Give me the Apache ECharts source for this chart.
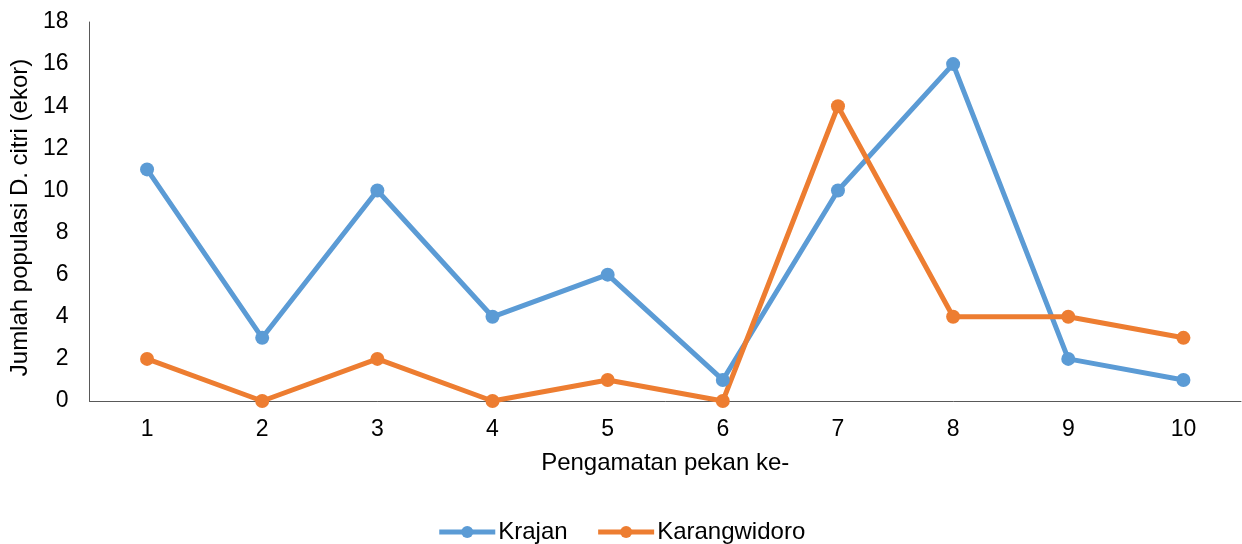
<!DOCTYPE html>
<html>
<head>
<meta charset="utf-8">
<script src="https://cdn.jsdelivr.net/npm/echarts@6/dist/echarts.min.js"></script>
<style>
  html, body { margin: 0; padding: 0; background: #fff; }
  #chart { width: 1242px; height: 544px; }
</style>
</head>
<body>
<div id="chart"></div>
<script>
// Weekly observation counts of D. citri at two sites
const weeks = ['1', '2', '3', '4', '5', '6', '7', '8', '9', '10'];
const krajan = [11, 3, 10, 4, 6, 1, 10, 16, 2, 1];
const karangwidoro = [2, 0, 2, 0, 1, 0, 14, 4, 4, 3];
const yTicks = { min: 0, max: 18, interval: 2 };

const FONT = 'Liberation Sans, Arial, sans-serif';
const chart = echarts.init(document.getElementById('chart'));

function lineSeries(name, data, color) {
  return {
    name: name,
    type: 'line',
    data: data,
    symbol: 'circle',
    symbolSize: 14,
    lineStyle: { width: 5, color: color },
    itemStyle: { color: color },
    emphasis: { disabled: true },
    animation: false
  };
}

chart.setOption({
  animation: false,
  grid: { left: 88, right: 1, top: 22, bottom: 143, containLabel: false },
  legend: {
    top: 515,
    left: 'center',
    itemWidth: 56,
    itemHeight: 15,
    itemGap: 28,
    lineStyle: { width: 5 },
    textStyle: { fontFamily: FONT, fontSize: 24, color: '#000', padding: [0, 0, 0, -2] },
    data: ['Krajan', 'Karangwidoro']
  },
  xAxis: {
    type: 'category',
    data: weeks,
    boundaryGap: true,
    name: 'Pengamatan pekan ke-',
    nameLocation: 'middle',
    nameGap: 50,
    nameTextStyle: { fontFamily: FONT, fontSize: 24, color: '#000' },
    axisLine: { lineStyle: { color: '#595959', width: 1 } },
    axisTick: { show: false },
    axisLabel: { fontFamily: FONT, fontSize: 23, color: '#000', margin: 17 },
    splitLine: { show: false }
  },
  yAxis: {
    type: 'value',
    min: yTicks.min,
    max: yTicks.max,
    interval: yTicks.interval,
    name: 'Jumlah populasi D. citri (ekor)',
    nameLocation: 'middle',
    nameGap: 56,
    nameTextStyle: { fontFamily: FONT, fontSize: 24, color: '#000', padding: [0, 12, 0, 0] },
    axisLine: { show: true, lineStyle: { color: '#595959', width: 1 } },
    axisTick: { show: false },
    axisLabel: { fontFamily: FONT, fontSize: 23, color: '#000', margin: 21 },
    splitLine: { show: false }
  },
  series: [
    lineSeries('Krajan', krajan, '#5B9BD5'),
    lineSeries('Karangwidoro', karangwidoro, '#ED7D31')
  ]
});
</script>
</body>
</html>
